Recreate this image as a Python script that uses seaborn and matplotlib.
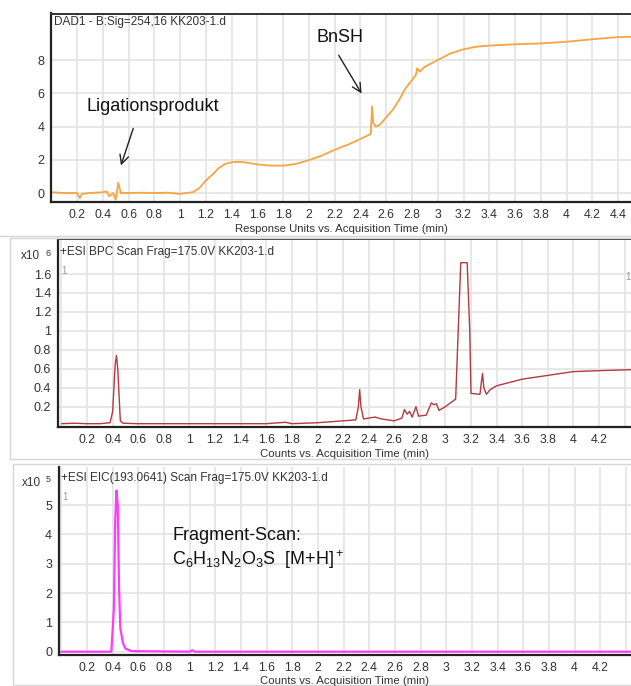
import matplotlib
matplotlib.use("Agg")
import matplotlib.pyplot as plt
import seaborn as sns
from matplotlib.patches import Rectangle
from matplotlib.lines import Line2D

# DAD1 trace (UV 254 nm)
dad_time = [0.0, 0.1, 0.2, 0.22, 0.24, 0.3, 0.4, 0.43, 0.45, 0.48,
            0.5, 0.52, 0.54, 0.6, 0.7, 0.8, 0.9, 1.0, 1.1, 1.15,
            1.2, 1.25, 1.3, 1.35, 1.4, 1.45, 1.5, 1.6, 1.7, 1.8,
            1.9, 2.0, 2.1, 2.2, 2.3, 2.4, 2.48, 2.49, 2.5, 2.52,
            2.55, 2.6, 2.65, 2.7, 2.75, 2.8, 2.83, 2.84, 2.86, 2.9,
            3.0, 3.1, 3.2, 3.3, 3.4, 3.6, 3.8, 4.0, 4.2, 4.4, 4.5]
dad_signal = [0.05, 0.0, 0.0, -0.3, -0.05, 0.0, 0.05, 0.1, -0.2, 0.0,
              -0.4, 0.62, 0.0, 0.0, 0.02, 0.0, 0.02, -0.05, 0.05, 0.3,
              0.75, 1.1, 1.5, 1.75, 1.85, 1.87, 1.85, 1.72, 1.65, 1.65,
              1.75, 1.98, 2.25, 2.6, 2.9, 3.25, 3.55, 5.2, 4.2, 4.0,
              4.1, 4.55, 5.0, 5.6, 6.3, 6.8, 7.1, 7.5, 7.3, 7.6,
              8.0, 8.4, 8.65, 8.8, 8.87, 8.95, 9.0, 9.1, 9.25, 9.38, 9.4]

# ESI BPC trace (x10^6 counts)
bpc_time = [0.0, 0.1, 0.2, 0.3, 0.38, 0.4, 0.42, 0.43, 0.44, 0.46,
            0.48, 0.6, 0.8, 1.0, 1.2, 1.4, 1.6, 1.75, 1.8, 2.0,
            2.2, 2.3, 2.32, 2.33, 2.34, 2.36, 2.45, 2.5, 2.6, 2.66,
            2.68, 2.7, 2.72, 2.74, 2.77, 2.79, 2.85, 2.89, 2.91, 2.93,
            2.95, 3.0, 3.05, 3.08, 3.1, 3.12, 3.17, 3.19, 3.2, 3.27,
            3.28, 3.29, 3.3, 3.32, 3.35, 3.4, 3.6, 3.8, 4.0, 4.2, 4.45]
bpc_counts = [0.02, 0.025, 0.02, 0.02, 0.03, 0.15, 0.65, 0.74, 0.6, 0.05,
              0.025, 0.02, 0.02, 0.02, 0.02, 0.02, 0.02, 0.035, 0.02, 0.03,
              0.05, 0.06, 0.2, 0.38, 0.2, 0.07, 0.09, 0.07, 0.05, 0.08,
              0.17, 0.12, 0.15, 0.09, 0.2, 0.1, 0.11, 0.24, 0.22, 0.23,
              0.16, 0.2, 0.25, 0.28, 1.0, 1.72, 1.72, 1.0, 0.34, 0.33,
              0.45, 0.55, 0.4, 0.33, 0.38, 0.42, 0.49, 0.53, 0.57, 0.58, 0.59]

# ESI EIC(193.0641) trace (x10^5 counts)
eic_time = [0.0, 0.2, 0.39, 0.41, 0.42, 0.43, 0.44, 0.45, 0.46, 0.48,
            0.5, 0.55, 1.0, 1.02, 1.04, 2.0, 3.0, 4.0, 4.44]
eic_counts = [0.0, 0.0, 0.0, 1.5, 4.5, 5.5, 5.0, 2.2, 0.8, 0.3,
              0.1, 0.02, 0.0, 0.05, 0.0, 0.0, 0.0, 0.0, 0.0]

# ticks
x_ticks = [0.0, 0.2, 0.4, 0.6, 0.8, 1.0, 1.2, 1.4, 1.6, 1.8, 2.0, 2.2,
           2.4, 2.6, 2.8, 3.0, 3.2, 3.4, 3.6, 3.8, 4.0, 4.2, 4.4]
dad_yticks = [0, 2, 4, 6, 8]
bpc_yticks = [0.2, 0.4, 0.6, 0.8, 1.0, 1.2, 1.4, 1.6]
eic_yticks = [0, 1, 2, 3, 4, 5]

sns.set_style("white")
plt.rcParams['font.family'] = ['Liberation Sans', 'DejaVu Sans']
plt.rcParams['mathtext.fontset'] = 'custom'
plt.rcParams['mathtext.rm'] = 'Liberation Sans'
plt.rcParams['mathtext.it'] = 'Liberation Sans'

W, H = 631, 686
fig = plt.figure(figsize=(W / 100, H / 100), dpi=100)


def px_axes(left, top, right, bottom):
    return fig.add_axes([left / W, 1 - bottom / H, (right - left) / W, (bottom - top) / H])


def fmt(v):
    return f"{v:g}"


def style(ax, xlabels_upto, yticks, top_dark):
    ax.set_xticks(x_ticks)
    ax.set_xticklabels(["" if (v == 0 or v > xlabels_upto) else fmt(v) for v in x_ticks])
    ax.set_yticks(yticks)
    ax.set_yticklabels([fmt(v) for v in yticks])
    ax.grid(True, color='#e3e3e3', lw=1.2)
    ax.set_axisbelow(True)
    for s in ['left', 'bottom']:
        ax.spines[s].set_color('#222222')
        ax.spines[s].set_linewidth(1.6)
    ax.spines['right'].set_visible(False)
    if top_dark:
        ax.spines['top'].set_color('#333333')
        ax.spines['top'].set_linewidth(1.4)
    else:
        ax.spines['top'].set_visible(False)
    ax.tick_params(direction='out', length=4, width=1.1, colors='#222222',
                   labelcolor='#333333', labelsize=9, pad=1)
    ax.tick_params(axis='x', labelsize=8.8)
    ax.set_xlabel("")
    ax.set_ylabel("")


# frames
fig.add_artist(Line2D([0, 1], [1 - 236 / H, 1 - 236 / H], color='#d6d6d6', lw=1))
fig.add_artist(Rectangle((10 / W, 1 - 459 / H), 1, 221 / H, transform=fig.transFigure,
                         fill=False, edgecolor='#d6d6d6', lw=1))
fig.add_artist(Rectangle((13 / W, 1 - 686 / H + 0.001), 1, 221 / H, transform=fig.transFigure,
                         fill=False, edgecolor='#d6d6d6', lw=1))

# panel 1: DAD
ax1 = px_axes(51.25, 13.5, 631, 202)
sns.lineplot(x=dad_time, y=dad_signal, ax=ax1, color='#F8A440', linewidth=1.3,
             errorbar=None, sort=False)
ax1.set_xlim(0, 4.5)
ax1.set_ylim(-0.54, 10.8)
style(ax1, 4.4, dad_yticks, True)
ax1.text(0.004, 0.955, "DAD1 - B:Sig=254,16 KK203-1.d", transform=ax1.transAxes,
         fontsize=8.5, color='#333333', va='center', ha='left')
ax1.annotate("", xy=(0.534, 1.5), xytext=(0.643, 4.04),
             arrowprops=dict(arrowstyle='->', color='#222222', lw=1, mutation_scale=16))
ax1.text(0.785, 5.18, "Ligationsprodukt", fontsize=13, ha='center', va='center', color='#111111')
ax1.annotate("", xy=(2.42, 5.84), xytext=(2.22, 8.43),
             arrowprops=dict(arrowstyle='->', color='#222222', lw=1, mutation_scale=16))
ax1.text(2.24, 9.34, "BnSH", fontsize=13, ha='center', va='center', color='#111111')
fig.text(341 / W, 1 - 229 / H, "Response Units vs. Acquisition Time (min)",
         fontsize=8.2, color='#333333', ha='center', va='center')

# panel 2: BPC
ax2 = px_axes(58, 239, 631, 427)
sns.lineplot(x=bpc_time, y=bpc_counts, ax=ax2, color='#B23A42', linewidth=1.0,
             errorbar=None, sort=False)
ax2.set_xlim(-0.027, 4.45)
ax2.set_ylim(-0.015, 1.97)
style(ax2, 4.2, bpc_yticks, True)
ax2.text(0.004, 0.93, "+ESI BPC Scan Frag=175.0V KK203-1.d", transform=ax2.transAxes,
         fontsize=8.5, color='#333333', va='center', ha='left')
ax2.text(0.006, 0.83, "1", transform=ax2.transAxes, fontsize=7, color='#999999', va='center')
ax2.text(0.99, 0.80, "1", transform=ax2.transAxes, fontsize=7, color='#999999', va='center')
fig.text(21 / W, 1 - 256 / H, "x10", fontsize=8.5, color='#333333', ha='left', va='center')
fig.text(46 / W, 1 - 253 / H, "6", fontsize=6.5, color='#333333', ha='left', va='center')
fig.text(345 / W, 1 - 454 / H, "Counts vs. Acquisition Time (min)",
         fontsize=8.2, color='#333333', ha='center', va='center')

# panel 3: EIC
ax3 = px_axes(59, 467, 631, 655)
sns.lineplot(x=eic_time, y=eic_counts, ax=ax3, color='#FF3BFF', linewidth=1.6,
             errorbar=None, sort=False)
ax3.set_xlim(-0.018, 4.44)
ax3.set_ylim(-0.113, 6.3)
style(ax3, 4.2, eic_yticks, False)
ax3.text(0.004, 0.94, "+ESI EIC(193.0641) Scan Frag=175.0V KK203-1.d", transform=ax3.transAxes,
         fontsize=8.5, color='#333333', va='center', ha='left')
ax3.text(0.006, 0.84, "1", transform=ax3.transAxes, fontsize=7, color='#999999', va='center')
ax3.text(0.863, 3.95, "Fragment-Scan:", fontsize=13, ha='left', va='center', color='#111111')
ax3.text(0.863, 3.13, r"C$_6$H$_{13}$N$_2$O$_3$S  [M+H]$^+$", fontsize=13,
         ha='left', va='center', color='#111111')
fig.text(22 / W, 1 - 483 / H, "x10", fontsize=8.5, color='#333333', ha='left', va='center')
fig.text(46 / W, 1 - 479 / H, "5", fontsize=6.5, color='#333333', ha='left', va='center')
fig.text(345 / W, 1 - 680.5 / H, "Counts vs. Acquisition Time (min)",
         fontsize=8.2, color='#333333', ha='center', va='center')

fig.savefig("out.png", dpi=100)
